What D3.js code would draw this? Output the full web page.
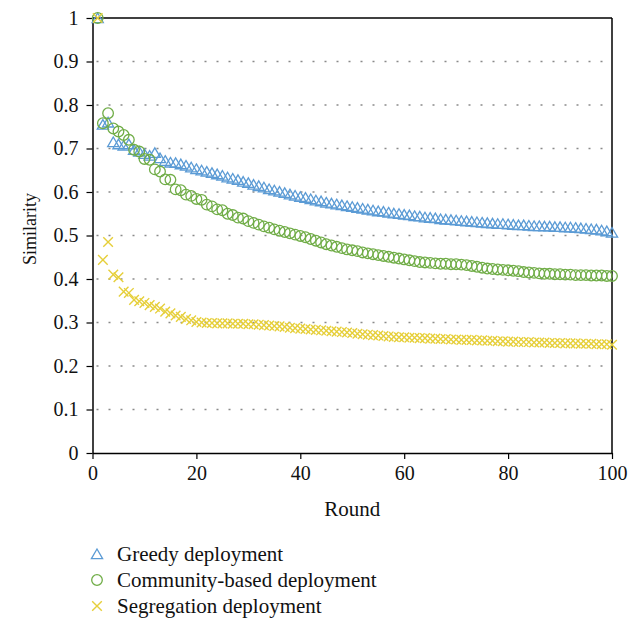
<!DOCTYPE html>
<html>
<head>
<meta charset="utf-8">
<script src="https://cdn.jsdelivr.net/npm/d3@7"></script>
<style>
  body { margin: 0; background: #fff; }
  svg { display: block; font-family: "Liberation Serif", "DejaVu Serif", serif; }
  svg text { font-family: "Liberation Serif", "DejaVu Serif", serif; }
</style>
</head>
<body>
<svg id="chart" width="637" height="618"></svg>
<script>
// data
var rounds = d3.range(1, 101);

var greedy = [
  1.0, 0.755, 0.76, 0.715, 0.71, 0.707, 0.71, 0.697, 0.693, 0.688,
  0.684, 0.69, 0.678, 0.672, 0.668, 0.667, 0.664, 0.661, 0.657, 0.653,
  0.65, 0.647, 0.644, 0.641, 0.638, 0.634, 0.631, 0.628, 0.624, 0.621,
  0.617, 0.614, 0.611, 0.607, 0.604, 0.601, 0.598, 0.595, 0.592, 0.589,
  0.587, 0.584, 0.581, 0.579, 0.576, 0.574, 0.572, 0.57, 0.568, 0.566,
  0.564, 0.562, 0.56, 0.558, 0.556, 0.555, 0.553, 0.551, 0.55, 0.548,
  0.547, 0.545, 0.544, 0.542, 0.541, 0.54, 0.538, 0.537, 0.536, 0.535,
  0.534, 0.533, 0.532, 0.531, 0.53, 0.529, 0.528, 0.527, 0.527, 0.526,
  0.525, 0.524, 0.524, 0.523, 0.522, 0.522, 0.521, 0.521, 0.52, 0.52,
  0.519, 0.519, 0.518, 0.517, 0.516, 0.515, 0.514, 0.512, 0.51, 0.507
];

var community = [
  1.0, 0.758, 0.781, 0.746, 0.739, 0.731, 0.72, 0.697, 0.693, 0.676,
  0.674, 0.652, 0.647, 0.629, 0.628, 0.606, 0.604, 0.594, 0.591, 0.584,
  0.582, 0.571, 0.567, 0.56, 0.558, 0.55, 0.547, 0.541, 0.539, 0.533,
  0.529, 0.525, 0.521, 0.518, 0.514, 0.511, 0.508, 0.505, 0.502, 0.499,
  0.496, 0.492, 0.488, 0.484, 0.48, 0.477, 0.474, 0.471, 0.468, 0.466,
  0.464, 0.461, 0.459, 0.457, 0.455, 0.453, 0.451, 0.449, 0.447, 0.445,
  0.443, 0.441, 0.439, 0.438, 0.437, 0.436, 0.435, 0.435, 0.434, 0.434,
  0.433, 0.432, 0.43, 0.428, 0.426, 0.424, 0.423, 0.422, 0.421, 0.42,
  0.419, 0.418, 0.416, 0.415, 0.414, 0.413, 0.412, 0.412, 0.411, 0.411,
  0.41, 0.41, 0.409, 0.409, 0.409, 0.408, 0.408, 0.408, 0.407, 0.407
];

var segregation = [
  1.0, 0.444, 0.485, 0.41, 0.404, 0.371, 0.368, 0.352, 0.349, 0.345,
  0.34, 0.336, 0.332, 0.325, 0.321, 0.316, 0.313, 0.308, 0.305, 0.301,
  0.3, 0.299, 0.299, 0.298, 0.298, 0.298, 0.297, 0.297, 0.297, 0.296,
  0.296, 0.295, 0.294, 0.293, 0.292, 0.291, 0.29, 0.288, 0.287, 0.286,
  0.285, 0.284, 0.283, 0.282, 0.281, 0.28, 0.279, 0.278, 0.277, 0.276,
  0.274, 0.273, 0.272, 0.271, 0.27, 0.269, 0.268, 0.267, 0.266, 0.266,
  0.265, 0.265, 0.264, 0.264, 0.263, 0.263, 0.262, 0.262, 0.261, 0.261,
  0.26, 0.26, 0.26, 0.259, 0.259, 0.258, 0.258, 0.257, 0.257, 0.256,
  0.256, 0.255, 0.255, 0.255, 0.254, 0.254, 0.254, 0.253, 0.253, 0.253,
  0.252, 0.252, 0.252, 0.251, 0.251, 0.251, 0.25, 0.25, 0.25, 0.249
];

var xTicks = [0, 20, 40, 60, 80, 100];
var yTicks = [0, 0.1, 0.2, 0.3, 0.4, 0.5, 0.6, 0.7, 0.8, 0.9, 1];

var seriesNames = ["Greedy deployment", "Community-based deployment", "Segregation deployment"];
var seriesColors = ["#5b9bd5", "#70ad47", "#e6cf3a"];
var seriesShapes = ["triangle", "circle", "cross"];

var svg = d3.select("#chart");

// plot box (window.top is reserved, so prefixed names)
var plotL = 92.5, plotR = 612, plotT = 18, plotB = 453;
var serif = "'Liberation Serif', 'DejaVu Serif', serif";

var x = d3.scaleLinear().domain([0, 100]).range([plotL, plotR]);
var y = d3.scaleLinear().domain([0, 1]).range([plotB, plotT]);

// dotted horizontal grid
svg.append("g")
    .selectAll("line")
    .data(yTicks.filter(function(d) { return d > 0 && d < 1; }))
    .enter().append("line")
    .attr("x1", plotL + 4)
    .attr("x2", plotR)
    .attr("y1", function(d) { return y(d); })
    .attr("y2", function(d) { return y(d); })
    .style("stroke", "#8a8a8a")
    .style("stroke-width", 1.6)
    .style("stroke-dasharray", "2,10");

// frame top + right
svg.append("line")
    .attr("x1", plotL).attr("x2", plotR).attr("y1", plotT).attr("y2", plotT)
    .style("stroke", "#000").style("stroke-width", 1.5);
svg.append("line")
    .attr("x1", plotR).attr("x2", plotR).attr("y1", plotT).attr("y2", plotB)
    .style("stroke", "#000").style("stroke-width", 1.5);

// axes
var xAxis = svg.append("g")
    .attr("transform", "translate(0," + plotB + ")")
    .call(d3.axisBottom(x).tickValues(xTicks).tickSize(6).tickPadding(7).tickSizeOuter(0));

var yAxis = svg.append("g")
    .attr("transform", "translate(" + plotL + ",0)")
    .call(d3.axisLeft(y).tickValues(yTicks).tickSize(6).tickPadding(8).tickSizeOuter(0)
        .tickFormat(function(d) { return d3.format("")(+d.toFixed(1)); }));

[xAxis, yAxis].forEach(function(a) {
    a.attr("font-family", serif).attr("font-size", 20);
    a.select(".domain").style("stroke", "#000").style("stroke-width", 1.5);
    a.selectAll(".tick line").style("stroke", "#000").style("stroke-width", 1.2);
    a.selectAll(".tick text")
        .style("font-family", serif)
        .style("font-size", "20px")
        .style("fill", "#111");
});

// axis titles
svg.append("text")
    .attr("x", (plotL + plotR) / 2)
    .attr("y", 516)
    .attr("text-anchor", "middle")
    .style("font-family", serif)
    .style("font-size", "21px")
    .style("fill", "#111")
    .text("Round");

svg.append("text")
    .attr("transform", "translate(36,229) rotate(-90)")
    .attr("text-anchor", "middle")
    .style("font-family", serif)
    .style("font-size", "18px")
    .style("fill", "#111")
    .text("Similarity");

// markers
function drawMarker(g, shape, color) {
    if (shape == "triangle") {
        g.append("path")
            .attr("d", "M0,-5L5.6,4.6L-5.6,4.6Z")
            .style("fill", "none").style("stroke", color).style("stroke-width", 1.3);
    } else if (shape == "circle") {
        g.append("circle")
            .attr("r", 5.3)
            .style("fill", "none").style("stroke", color).style("stroke-width", 1.3);
    } else {
        g.append("path")
            .attr("d", "M-4.8,-4.8L4.8,4.8M-4.8,4.8L4.8,-4.8")
            .style("fill", "none").style("stroke", color).style("stroke-width", 1.4);
    }
}

var allSeries = [greedy, community, segregation];

allSeries.forEach(function(vals, i) {
    var grp = svg.append("g").attr("class", "series-" + i);
    grp.selectAll("g")
        .data(vals)
        .enter().append("g")
        .attr("transform", function(d, j) { return "translate(" + x(rounds[j]) + "," + y(d) + ")"; })
        .each(function() { drawMarker(d3.select(this), seriesShapes[i], seriesColors[i]); });
});

// legend
var legend = svg.append("g").attr("transform", "translate(97,554)");
seriesNames.forEach(function(name, i) {
    var row = legend.append("g").attr("transform", "translate(0," + (i * 26) + ")");
    drawMarker(row, seriesShapes[i], seriesColors[i]);
    row.append("text")
        .attr("x", 20)
        .attr("y", 7)
        .style("font-family", serif)
        .style("font-size", "21px")
        .style("fill", "#111")
        .text(name);
});
</script>
</body>
</html>
